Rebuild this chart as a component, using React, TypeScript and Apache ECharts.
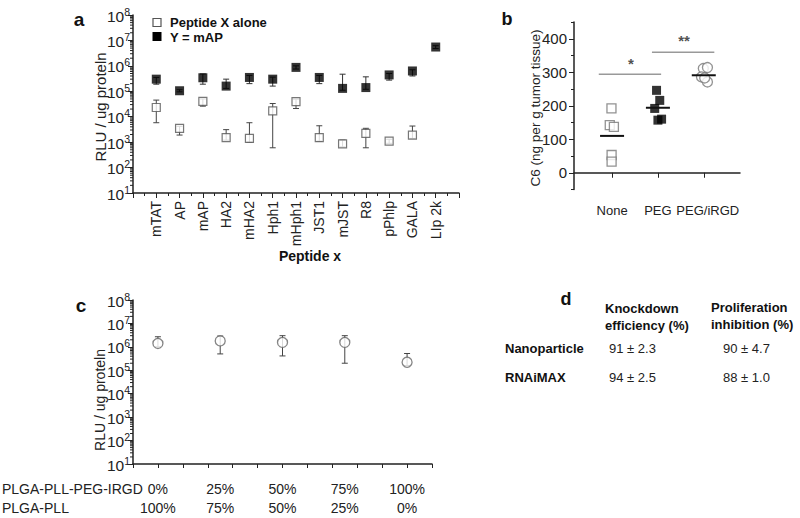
import React, { useEffect, useRef } from "react";
import * as echarts from "echarts";

// ---------- Panel a data ----------
const peptides = ["mTAT", "AP", "mAP", "HA2", "mHA2", "Hph1", "mHph1", "JST1", "mJST", "R8", "pPhlp", "GALA", "LIp 2k"];
const aloneMean = [2.3e4, 3.5e3, 4.0e4, 1.5e3, 1.4e3, 1.7e4, 3.9e4, 1.5e3, 8.5e2, 2.2e3, 1.1e3, 1.9e3, null];
const aloneLow = [5.8e3, 1.9e3, 2.6e4, 1.2e3, 1.0e3, 6.0e2, 2.1e4, 1.1e3, 6.5e2, 6.0e2, 9.0e2, 1.4e3, null];
const aloneHigh = [4.5e4, 4.2e3, 5.0e4, 3.1e3, 5.8e3, 3.3e4, 4.9e4, 4.4e3, 1.2e3, 3.5e3, 1.3e3, 4.3e3, null];
const mapMean = [3.0e5, 1.05e5, 3.4e5, 1.6e5, 3.5e5, 3.0e5, 8.7e5, 3.5e5, 1.3e5, 1.4e5, 4.4e5, 6.3e5, 5.5e6];
const mapLow = [1.9e5, 9.5e4, 1.9e5, 1.3e5, 2.0e5, 1.6e5, 7.5e5, 2.0e5, 1.1e5, 1.2e5, 2.75e5, 4.0e5, 4.8e6];
const mapHigh = [3.5e5, 1.15e5, 4.8e5, 3.0e5, 4.2e5, 3.6e5, 1.0e6, 4.2e5, 4.7e5, 3.7e5, 5.0e5, 7.0e5, 6.2e6];

// ---------- Panel b data ----------
const groupsB = ["None", "PEG", "PEG/iRGD"];
const noneVals = [192, 142, 137, 53, 33];
const noneJitter = [-0.013, -0.05, 0.04, -0.01, -0.01];
const pegVals = [246, 216, 192, 157, 160];
const pegJitter = [-0.03, 0.04, -0.07, 0.0, 0.08];
const irgdVals = [311, 314, 286, 271, 283];
const irgdJitter = [-0.01, 0.08, -0.05, 0.08, 0.02];
const meansB = [110, 194, 291];
const sig1 = { from: 0.71, to: 2.07, y: 294, label: "*", labelX: 1.41, labelY: 327 };
const sig2 = { from: 1.87, to: 3.23, y: 360, label: "**", labelX: 2.57, labelY: 395 };

// ---------- Panel c data ----------
const irgdPct = ["0%", "25%", "50%", "75%", "100%"];
const pllPct = ["100%", "75%", "50%", "25%", "0%"];
const cPos = [1, 3.5, 6, 8.5, 11];
const cMean = [1.4e6, 1.8e6, 1.55e6, 1.55e6, 2.2e5];
const cLow = [1.0e6, 5.0e5, 4.1e5, 2.0e5, 1.6e5];
const cHigh = [2.7e6, 2.9e6, 3.0e6, 3.0e6, 5.2e5];

// ---------- Panel d data ----------
const dRows = ["Nanoparticle", "RNAiMAX"];
const dKnock = ["91 ± 2.3", "94 ± 2.5"];
const dProlif = ["90 ± 4.7", "88 ± 1.0"];

const FONT = "Liberation Sans, Arial, Helvetica, sans-serif";
const AX = "#222";
const catLabelShift = [0, 0, 4];

const logLabel = {
  formatter: (v: number) => `{b|10}{s|${Math.round(Math.log10(v))}}`,
  margin: 3,
  rich: {
    b: { fontSize: 15.5, fontFamily: FONT, color: AX, lineHeight: 18, verticalAlign: "bottom" },
    s: { fontSize: 10.5, fontFamily: FONT, color: AX, lineHeight: 18, verticalAlign: "top" },
  },
};

function minorLogValues(minExp: number, maxExp: number) {
  const out: number[] = [];
  for (let e = minExp; e < maxExp; e++) for (let m = 2; m <= 9; m++) out.push(m * Math.pow(10, e));
  return out;
}

function errRender(color: string, cap: number) {
  return (params: any, api: any) => {
    const x = api.value(0);
    const lo = api.value(1);
    const hi = api.value(2);
    const a = api.coord([x, lo]);
    const b = api.coord([x, hi]);
    const st = { stroke: color, lineWidth: 1 };
    return {
      type: "group",
      children: [
        { type: "line", shape: { x1: a[0], y1: a[1], x2: b[0], y2: b[1] }, style: st },
        { type: "line", shape: { x1: b[0] - cap, y1: b[1], x2: b[0] + cap, y2: b[1] }, style: st },
        { type: "line", shape: { x1: a[0] - cap, y1: a[1], x2: a[0] + cap, y2: a[1] }, style: st },
      ],
    };
  };
}

function minorTickRender(xVal: number, len: number) {
  return (params: any, api: any) => {
    const p = api.coord([xVal, api.value(0)]);
    return {
      type: "line",
      shape: { x1: p[0] - len, y1: p[1], x2: p[0], y2: p[1] },
      style: { stroke: AX, lineWidth: 1 },
    };
  };
}

export default function App() {
  const ref = useRef<HTMLDivElement>(null);
  useEffect(() => {
    if (!ref.current) return;
    const chart = echarts.init(ref.current, undefined, { renderer: "svg" });

    const aloneErr = peptides
      .map((_, i) => (aloneMean[i] == null ? null : [i + 1, aloneLow[i], aloneHigh[i]]))
      .filter((d) => d);
    const mapErr = peptides.map((_, i) => [i + 1, mapLow[i], mapHigh[i]]);
    const aloneData = peptides
      .map((_, i) => (aloneMean[i] == null ? null : [i + 1, aloneMean[i]]))
      .filter((d) => d);
    const mapData = peptides.map((_, i) => [i + 1, mapMean[i]]);
    const minorVals = minorLogValues(1, 8).map((v) => [v]);

    const option: any = {
      animation: false,
      backgroundColor: "#fff",
      textStyle: { fontFamily: FONT },
      grid: [
        { left: 133, top: 15, width: 326, height: 178 },
        { left: 574, top: 22, width: 166, height: 167.5 },
        { left: 133, top: 300, width: 299, height: 164 },
      ],
      xAxis: [
        {
          gridIndex: 0,
          type: "value",
          min: 0,
          max: 14,
          interval: 1,
          splitLine: { show: false },
          axisLine: { lineStyle: { color: AX, width: 1.5 } },
          axisTick: { length: 5, lineStyle: { color: AX } },
          minorTick: { show: true, splitNumber: 2, length: 3, lineStyle: { color: AX } },
          axisLabel: {
            rotate: 90,
            margin: 8,
            fontSize: 14,
            color: AX,
            fontFamily: FONT,
            formatter: (v: number) => peptides[v - 1] || "",
          },
        },
        {
          gridIndex: 1,
          type: "value",
          min: 0.17,
          max: 3.79,
          splitLine: { show: false },
          axisLine: { lineStyle: { color: AX, width: 1.5 } },
          axisTick: { length: 5, customValues: [1, 2, 3], lineStyle: { color: AX } },
          axisLabel: { show: false },
        },
        {
          gridIndex: 2,
          type: "value",
          min: 0,
          max: 12,
          interval: 1,
          splitLine: { show: false },
          axisLine: { lineStyle: { color: AX, width: 1.5 } },
          axisTick: { length: 4, lineStyle: { color: AX } },
          axisLabel: {
            customValues: cPos,
            margin: 15,
            fontSize: 14,
            lineHeight: 19,
            color: AX,
            fontFamily: FONT,
            hideOverlap: false,
            formatter: (v: number) => {
              const i = cPos.indexOf(v);
              return i < 0 ? "" : `${irgdPct[i]}\n${pllPct[i]}`;
            },
          },
        },
      ],
      yAxis: [
        {
          gridIndex: 0,
          type: "log",
          logBase: 10,
          min: 10,
          max: 1e8,
          splitLine: { show: false },
          axisLine: { show: true, lineStyle: { color: AX, width: 1.5 } },
          axisTick: { show: true, length: 5, lineStyle: { color: AX } },
          axisLabel: logLabel,
        },
        {
          gridIndex: 1,
          type: "value",
          min: -50,
          max: 450,
          splitLine: { show: false },
          axisLine: { show: true, lineStyle: { color: AX, width: 1.5 } },
          axisTick: { show: true, length: 5, customValues: [0, 100, 200, 300, 400], lineStyle: { color: AX } },
          axisLabel: {
            customValues: [0, 100, 200, 300, 400],
            margin: 7,
            fontSize: 15,
            color: AX,
            fontFamily: FONT,
          },
        },
        {
          gridIndex: 2,
          type: "log",
          logBase: 10,
          min: 10,
          max: 1e8,
          splitLine: { show: false },
          axisLine: { show: true, lineStyle: { color: AX, width: 1.5 } },
          axisTick: { show: true, length: 5, lineStyle: { color: AX } },
          axisLabel: logLabel,
        },
        {
          gridIndex: 1,
          type: "value",
          min: -50,
          max: 450,
          position: "left",
          splitLine: { show: false },
          axisLine: { show: false },
          axisTick: { show: true, length: 3, customValues: [-50, 50, 150, 250, 350, 450], lineStyle: { color: AX } },
          axisLabel: { show: false },
        },
      ],
      series: [
        {
          type: "custom",
          xAxisIndex: 0,
          yAxisIndex: 0,
          data: minorVals,
          encode: { y: 0 },
          renderItem: minorTickRender(0, 3),
          silent: true,
        },
        {
          type: "custom",
          xAxisIndex: 2,
          yAxisIndex: 2,
          data: minorVals,
          encode: { y: 0 },
          renderItem: minorTickRender(0, 3),
          silent: true,
        },
        {
          type: "custom",
          xAxisIndex: 0,
          yAxisIndex: 0,
          data: aloneErr,
          encode: { x: 0, y: [1, 2] },
          renderItem: errRender("#444", 3),
          z: 1,
        },
        {
          type: "custom",
          xAxisIndex: 0,
          yAxisIndex: 0,
          data: mapErr,
          encode: { x: 0, y: [1, 2] },
          renderItem: errRender("#333", 3),
          z: 1,
        },
        {
          name: "Peptide X alone",
          type: "scatter",
          xAxisIndex: 0,
          yAxisIndex: 0,
          symbol: "rect",
          symbolSize: 8,
          data: aloneData,
          itemStyle: { color: "#fff", borderColor: "#555", borderWidth: 1.2 },
          z: 3,
        },
        {
          name: "Y = mAP",
          type: "scatter",
          xAxisIndex: 0,
          yAxisIndex: 0,
          symbol: "rect",
          symbolSize: 9,
          data: mapData,
          itemStyle: { color: "#000" },
          z: 3,
        },
        {
          type: "scatter",
          xAxisIndex: 1,
          yAxisIndex: 1,
          symbol: "rect",
          symbolSize: 9,
          data: noneVals.map((v, i) => [1 + noneJitter[i], v]),
          itemStyle: { color: "#fff", borderColor: "#777", borderWidth: 1.3 },
        },
        {
          type: "scatter",
          xAxisIndex: 1,
          yAxisIndex: 1,
          symbol: "rect",
          symbolSize: 9,
          data: pegVals.map((v, i) => [2 + pegJitter[i], v]),
          itemStyle: { color: "#000" },
        },
        {
          type: "scatter",
          xAxisIndex: 1,
          yAxisIndex: 1,
          symbol: "circle",
          symbolSize: 10,
          data: irgdVals.map((v, i) => [3 + irgdJitter[i], v]),
          itemStyle: { color: "#fff", borderColor: "#777", borderWidth: 1.3 },
        },
        {
          type: "custom",
          xAxisIndex: 1,
          yAxisIndex: 1,
          data: meansB.map((m, i) => [i + 1, m]),
          encode: { x: 0, y: 1 },
          z: 5,
          renderItem: (params: any, api: any) => {
            const p = api.coord([api.value(0), api.value(1)]);
            return {
              type: "line",
              shape: { x1: p[0] - 12, y1: p[1], x2: p[0] + 12, y2: p[1] },
              style: { stroke: "#111", lineWidth: 2 },
            };
          },
        },
        ...[sig1, sig2].map((s) => ({
          type: "line",
          xAxisIndex: 1,
          yAxisIndex: 1,
          symbol: "none",
          data: [
            [s.from, s.y],
            [s.to, s.y],
          ],
          lineStyle: { color: "#999", width: 1.5 },
        })),
        {
          type: "scatter",
          xAxisIndex: 1,
          yAxisIndex: 1,
          symbolSize: 0,
          data: [sig1, sig2].map((s) => ({ value: [s.labelX, s.labelY], name: s.label })),
          label: {
            show: true,
            position: "inside",
            formatter: (p: any) => p.name,
            fontSize: 15,
            fontWeight: "bold",
            color: "#222",
            fontFamily: FONT,
          },
        },
        {
          type: "custom",
          xAxisIndex: 2,
          yAxisIndex: 2,
          data: cPos.map((x, i) => [x, cLow[i], cHigh[i]]),
          encode: { x: 0, y: [1, 2] },
          renderItem: errRender("#444", 3),
          z: 1,
        },
        {
          type: "scatter",
          xAxisIndex: 2,
          yAxisIndex: 2,
          symbol: "circle",
          symbolSize: 10,
          data: cPos.map((x, i) => [x, cMean[i]]),
          itemStyle: { color: "#fff", borderColor: "#666", borderWidth: 1.3 },
          z: 3,
        },
      ],
      graphic: [
        { type: "text", x: 79, y: 19, style: { text: "a", font: `bold 19px ${FONT}`, fill: "#111", align: "center", verticalAlign: "middle" } },
        { type: "text", x: 507, y: 19, style: { text: "b", font: `bold 18px ${FONT}`, fill: "#111", align: "center", verticalAlign: "middle" } },
        { type: "text", x: 81, y: 305, style: { text: "c", font: `bold 19px ${FONT}`, fill: "#111", align: "center", verticalAlign: "middle" } },
        { type: "text", x: 566, y: 299, style: { text: "d", font: `bold 18px ${FONT}`, fill: "#111", align: "center", verticalAlign: "middle" } },
        { type: "rect", shape: { x: 153, y: 18.5, width: 8, height: 8 }, style: { fill: "#fff", stroke: "#555", lineWidth: 1.2 } },
        { type: "rect", shape: { x: 152.5, y: 32, width: 9, height: 9 }, style: { fill: "#000" } },
        { type: "text", x: 170, y: 22.5, style: { text: "Peptide X alone", font: `bold 13px ${FONT}`, fill: "#111", verticalAlign: "middle" } },
        { type: "text", x: 170, y: 37, style: { text: "Y = mAP", font: `bold 13px ${FONT}`, fill: "#111", verticalAlign: "middle" } },
        { type: "text", x: 100, y: 107, rotation: Math.PI / 2, style: { text: "RLU / ug proteln", font: `15px ${FONT}`, fill: AX, align: "center", verticalAlign: "middle" } },
        { type: "text", x: 310, y: 256, style: { text: "Peptide x", font: `bold 14px ${FONT}`, fill: "#111", align: "center", verticalAlign: "middle" } },
        { type: "text", x: 535, y: 108, rotation: Math.PI / 2, style: { text: "C6 (ng per g tumor tissue)", font: `13.5px ${FONT}`, fill: AX, align: "center", verticalAlign: "middle" } },
        { type: "text", x: 100, y: 400, rotation: Math.PI / 2, style: { text: "RLU / ug proteln", font: `14px ${FONT}`, fill: AX, align: "center", verticalAlign: "middle" } },
        { type: "text", x: 2, y: 489, style: { text: "PLGA-PLL-PEG-IRGD", font: `14px ${FONT}`, fill: AX, verticalAlign: "middle" } },
        { type: "text", x: 2, y: 508, style: { text: "PLGA-PLL", font: `14px ${FONT}`, fill: AX, verticalAlign: "middle" } },
        { type: "text", x: 605, y: 308, style: { text: "Knockdown", font: `bold 13px ${FONT}`, fill: "#111", verticalAlign: "middle" } },
        { type: "text", x: 605, y: 325, style: { text: "efficiency (%)", font: `bold 13px ${FONT}`, fill: "#111", verticalAlign: "middle" } },
        { type: "text", x: 711, y: 307, style: { text: "Proliferation", font: `bold 13px ${FONT}`, fill: "#111", verticalAlign: "middle" } },
        { type: "text", x: 711, y: 324, style: { text: "inhibition (%)", font: `bold 13px ${FONT}`, fill: "#111", verticalAlign: "middle" } },
        ...dRows.map((r, i) => ({ type: "text", x: 505, y: 348 + i * 29, style: { text: r, font: `bold 13px ${FONT}`, fill: "#111", verticalAlign: "middle" } })),
        ...dKnock.map((r, i) => ({ type: "text", x: 609, y: 348 + i * 29, style: { text: r, font: `13px ${FONT}`, fill: AX, verticalAlign: "middle" } })),
        ...dProlif.map((r, i) => ({ type: "text", x: 723, y: 348 + i * 29, style: { text: r, font: `13px ${FONT}`, fill: AX, verticalAlign: "middle" } })),
      ],
    };
    chart.setOption(option);

    // Panel b category labels placed through the axis scale
    const catLabels = groupsB.map((g, i) => {
      const p = chart.convertToPixel({ xAxisIndex: 1, yAxisIndex: 1 }, [i + 1, -50]) as number[];
      return {
        type: "text",
        x: p[0] + catLabelShift[i],
        y: p[1] + 21,
        style: { text: g, font: `13px ${FONT}`, fill: AX, align: "center", verticalAlign: "middle" },
      };
    });
    chart.setOption({ graphic: [...option.graphic, ...catLabels] });

    return () => chart.dispose();
  }, []);
  return <div ref={ref} style={{ position: "absolute", left: 0, top: 0, width: 800, height: 518 }} />;
}
